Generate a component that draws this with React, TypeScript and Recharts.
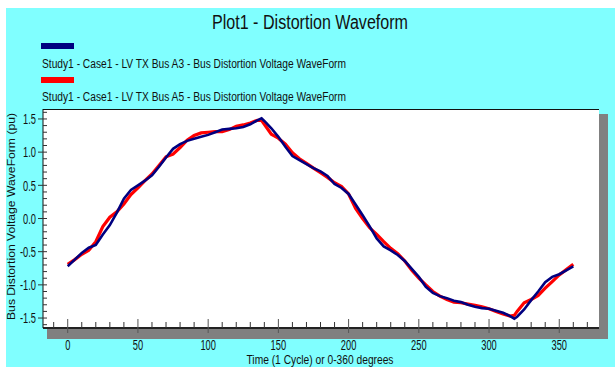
import React from "react";
import { LineChart, Line, XAxis, YAxis } from "recharts";

const title = "Plot1 - Distortion Waveform";
const seriesNames = [
  "Study1 - Case1 - LV TX Bus A3 - Bus Distortion Voltage WaveForm",
  "Study1 - Case1 - LV TX Bus A5 - Bus Distortion Voltage WaveForm",
];
const xLabel = "Time (1 Cycle) or 0-360 degrees";
const yLabel = "Bus Distortion Voltage WaveForm (pu)";

const degrees = [
  0, 5, 10, 15, 20, 25, 30, 35, 40, 45, 50, 55, 60, 65, 70, 75, 80, 85, 90, 95,
  100, 105, 110, 115, 120, 125, 130, 135, 138, 140, 145, 150, 155, 160, 165, 170,
  175, 180, 185, 190, 195, 200, 205, 210, 215, 220, 225, 230, 235, 240, 245, 250,
  255, 260, 265, 270, 275, 280, 285, 290, 295, 300, 305, 310, 315, 318, 320, 325,
  330, 335, 340, 345, 350, 355, 360,
];

const busA3 = [
  -0.72, -0.62, -0.52, -0.44, -0.4, -0.24, -0.1, 0.09, 0.3, 0.43, 0.5, 0.57, 0.65,
  0.78, 0.92, 1.05, 1.12, 1.17, 1.2, 1.23, 1.26, 1.3, 1.34, 1.35, 1.36, 1.38, 1.42,
  1.48, 1.51, 1.47, 1.36, 1.23, 1.08, 0.94, 0.88, 0.82, 0.76, 0.71, 0.64, 0.52,
  0.46, 0.37, 0.21, 0.05, -0.12, -0.3, -0.42, -0.48, -0.55, -0.64, -0.76, -0.88,
  -1.03, -1.12, -1.17, -1.2, -1.24, -1.26, -1.3, -1.33, -1.35, -1.36, -1.39, -1.42,
  -1.47, -1.51, -1.48, -1.37, -1.23, -1.1, -0.96, -0.88, -0.84, -0.78, -0.72,
];

const busA5 = [
  -0.69, -0.62, -0.54, -0.48, -0.35, -0.12, 0.02, 0.1, 0.22, 0.36, 0.46, 0.57,
  0.67, 0.8, 0.93, 0.97, 1.07, 1.18, 1.25, 1.29, 1.3, 1.31, 1.31, 1.34, 1.39, 1.41,
  1.44, 1.48, 1.48, 1.42, 1.27, 1.21, 1.12, 0.99, 0.9, 0.83, 0.76, 0.69, 0.62,
  0.54, 0.48, 0.37, 0.15, 0.0, -0.14, -0.24, -0.35, -0.45, -0.53, -0.64, -0.78,
  -0.9, -1.0, -1.1, -1.17, -1.22, -1.26, -1.27, -1.29, -1.31, -1.33, -1.36, -1.4,
  -1.44, -1.47, -1.46, -1.4, -1.27, -1.22, -1.16, -1.05, -0.95, -0.85, -0.77, -0.69,
];

const xTicks = [
  -10, 0, 10, 20, 30, 40, 50, 60, 70, 80, 90, 100, 110, 120, 130, 140, 150, 160,
  170, 180, 190, 200, 210, 220, 230, 240, 250, 260, 270, 280, 290, 300, 310, 320,
  330, 340, 350, 360, 370,
];
const yTicks = [
  -1.6, -1.5, -1.4, -1.3, -1.2, -1.1, -1.0, -0.9, -0.8, -0.7, -0.6, -0.5, -0.4,
  -0.3, -0.2, -0.1, 0.0, 0.1, 0.2, 0.3, 0.4, 0.5, 0.6, 0.7, 0.8, 0.9, 1.0, 1.1,
  1.2, 1.3, 1.4, 1.5, 1.6,
];

const data = degrees.map((d, i) => ({ deg: d, a3: busA3[i], a5: busA5[i] }));

const FONT = "'Liberation Sans', Arial, sans-serif";
const W = 615;
const H = 367;
const PL = 43;
const PT = 109;
const PR = 599;
const PB = 328;

const XTick = (props: any) => {
  const { x, y, payload } = props;
  const v = payload.value;
  const major = v % 50 === 0;
  return (
    <g>
      <line
        x1={x}
        x2={x}
        y1={major ? y - 9 : y - 6}
        y2={major ? y + 5 : y}
        stroke={major ? "#555" : "#333"}
        strokeWidth={1}
      />
      {major && (
        <text
          transform={`translate(${x},${y + 22}) scale(0.62,1)`}
          textAnchor="middle"
          fontFamily={FONT}
          fontSize={15}
          fill="#111"
        >
          {v}
        </text>
      )}
    </g>
  );
};

const YTick = (props: any) => {
  const { x, y, payload } = props;
  const v = payload.value;
  const major = Math.round(v * 10) % 5 === 0;
  return (
    <g>
      <line
        x1={major ? x - 5 : x}
        x2={x + 4}
        y1={y}
        y2={y}
        stroke="#333"
        strokeWidth={1}
      />
      {major && (
        <text
          transform={`translate(${x - 7},${y + 5.3}) scale(0.62,1)`}
          textAnchor="end"
          fontFamily={FONT}
          fontSize={15}
          fill="#111"
        >
          {v.toFixed(1)}
        </text>
      )}
    </g>
  );
};

export default function App() {
  return (
    <div style={{ position: "absolute", left: 0, top: 0, width: W, height: H, background: "#fff" }}>
      <div style={{ position: "absolute", left: 6, top: 8, width: W - 6, height: H - 8, background: "#80FFFF" }} />
      <div style={{ position: "absolute", left: PL + 4, top: PT + 5, width: PR - PL + 5, height: PB - PT + 6, background: "#808080" }} />
      <div style={{ position: "absolute", left: PL, top: PT, width: PR - PL, height: PB - PT, background: "#fff" }} />
      <div style={{ position: "absolute", left: 0, top: 0 }}>
        <LineChart
          width={W}
          height={H}
          data={data}
          margin={{ top: PT, right: W - PR, bottom: 0, left: 0 }}
        >
          <XAxis
            dataKey="deg"
            type="number"
            domain={[-17.6, 378.3]}
            allowDataOverflow
            ticks={xTicks}
            interval={0}
            tick={<XTick />}
            tickLine={false}
            tickSize={0}
            tickMargin={0}
            height={H - PB}
            axisLine={{ stroke: "#222", strokeWidth: 2 }}
          />
          <YAxis
            type="number"
            domain={[-1.65, 1.65]}
            allowDataOverflow
            ticks={yTicks}
            interval={0}
            tick={<YTick />}
            tickLine={false}
            tickSize={0}
            tickMargin={0}
            width={PL}
            axisLine={{ stroke: "#111", strokeWidth: 1 }}
          />
          <Line
            type="linear"
            dataKey="a5"
            name={seriesNames[1]}
            stroke="#FF0000"
            strokeWidth={3.2}
            dot={false}
            isAnimationActive={false}
          />
          <Line
            type="linear"
            dataKey="a3"
            name={seriesNames[0]}
            stroke="#000080"
            strokeWidth={2.6}
            dot={false}
            isAnimationActive={false}
          />
        </LineChart>
      </div>
      <svg
        width={W}
        height={H}
        style={{ position: "absolute", left: 0, top: 0, pointerEvents: "none" }}
      >
        <line x1={PL} x2={PR} y1={PT + 0.5} y2={PT + 0.5} stroke="#111" strokeWidth={1} />
        <text
          x={310}
          y={28.5}
          textAnchor="middle"
          fontFamily={FONT}
          fontSize={20}
          fill="#111"
          textLength={196}
          lengthAdjust="spacingAndGlyphs"
        >
          {title}
        </text>
        <rect x={41} y={43} width={33} height={6} fill="#000080" />
        <text
          x={42}
          y={68}
          fontFamily={FONT}
          fontSize={12}
          fill="#111"
          textLength={304}
          lengthAdjust="spacingAndGlyphs"
        >
          {seriesNames[0]}
        </text>
        <rect x={41} y={77} width={33} height={6} fill="#FF0000" />
        <text
          x={42}
          y={101}
          fontFamily={FONT}
          fontSize={12}
          fill="#111"
          textLength={304}
          lengthAdjust="spacingAndGlyphs"
        >
          {seriesNames[1]}
        </text>
        <text
          x={320}
          y={364}
          textAnchor="middle"
          fontFamily={FONT}
          fontSize={12}
          fill="#111"
          textLength={147}
          lengthAdjust="spacingAndGlyphs"
        >
          {xLabel}
        </text>
        <text
          transform="translate(15,216.5) scale(0.85,1) rotate(-90)"
          textAnchor="middle"
          fontFamily={FONT}
          fontSize={12}
          fill="#111"
          textLength={207}
          lengthAdjust="spacingAndGlyphs"
        >
          {yLabel}
        </text>
      </svg>
    </div>
  );
}
